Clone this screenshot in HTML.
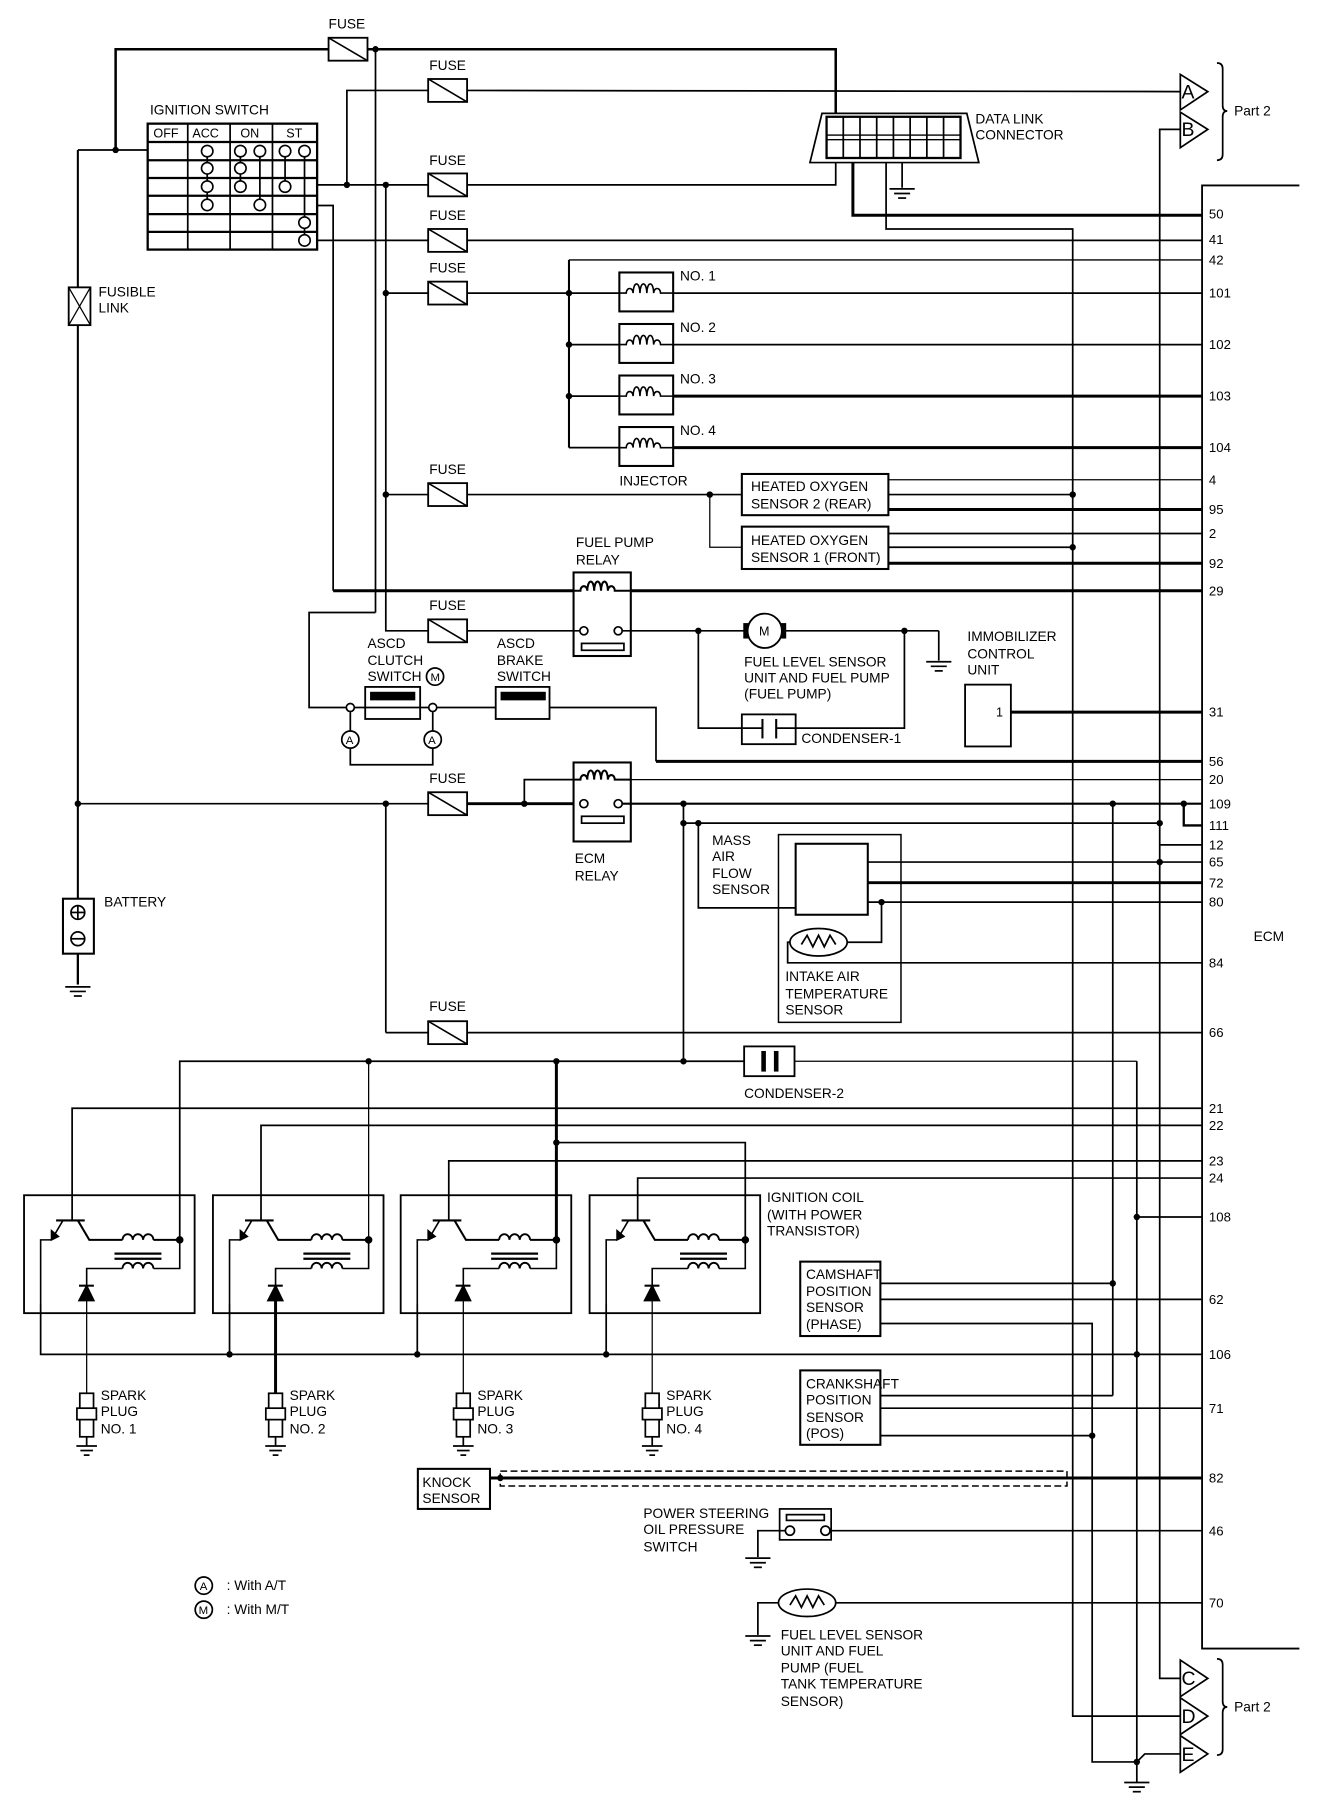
<!DOCTYPE html>
<html><head><meta charset="utf-8"><style>
html,body{margin:0;padding:0;background:#fff}
svg{display:block}
text{font-family:"Liberation Sans",Arial,sans-serif;font-size:12px;fill:#000}
text.big{font-size:17px}
text.sm{font-size:10px}
text.tb{font-size:11px}
g.pin text{font-size:11.5px}
</style></head><body>
<svg width="1328" height="1798" viewBox="0 0 1160 1570.5" preserveAspectRatio="none" xmlns="http://www.w3.org/2000/svg">
<defs>
<g id="fuse"><rect x="0" y="-10" width="34" height="20" fill="#fff" stroke="#000" stroke-width="1.6"/><line x1="0" y1="-10" x2="34" y2="10" stroke="#000" stroke-width="1.4"/></g>
<g id="gnd" stroke="#000" stroke-width="1.5"><line x1="-11" y1="0" x2="11" y2="0"/><line x1="-7" y1="4" x2="7" y2="4"/><line x1="-3.5" y1="8" x2="3.5" y2="8"/></g>
<g id="inj" fill="none" stroke="#000"><rect x="0" y="-18" width="47" height="34" stroke-width="1.8" fill="#fff"/><path d="M0,0 H6 a3,4 0 0 1 6,0 a3,8 0 1 1 6,0 a3,8 0 1 1 6,0 a3,8 0 1 1 6,0 a3,4 0 0 1 6,0 H47" stroke-width="1.4"/></g>
<g id="coil" fill="none" stroke="#000" stroke-width="1.4">
<rect x="0" y="1044" width="149" height="103" stroke-width="1.6"/>
<line x1="28" y1="1066" x2="53" y2="1066" stroke-width="1.8"/>
<line x1="34" y1="1066" x2="24" y2="1083"/>
<polygon points="24,1083 24,1075 30,1080" fill="#000"/>
<polyline points="24,1083 14.5,1083 14.5,1139"/>
<polyline points="47,1066 57,1083 86,1083" stroke-width="1.8"/>
<path d="M86,1083 a4.5,5 0 0 1 9,0 a4.5,5 0 0 1 9,0 a4.5,5 0 0 1 9,0" stroke-width="1.6"/>
<line x1="113" y1="1083" x2="136" y2="1083" stroke-width="1.8"/>
<line x1="79" y1="1095" x2="120" y2="1095" stroke-width="2"/>
<line x1="79" y1="1099.5" x2="120" y2="1099.5" stroke-width="2"/>
<polyline points="136,1083 136,1108 113,1108"/>
<path d="M113,1108 a4.5,5 0 0 0 -9,0 a4.5,5 0 0 0 -9,0 a4.5,5 0 0 0 -9,0" stroke-width="1.6"/>
<polyline points="86,1108 54.7,1108 54.7,1123"/>
<line x1="48" y1="1123" x2="61" y2="1123" stroke-width="1.8"/>
<polygon points="48,1136 61,1136 54.7,1123" fill="#000"/>
<circle cx="136" cy="1083" r="2.6" fill="#000"/>
</g>
<g id="plug" fill="#fff" stroke="#000" stroke-width="1.5">
<rect x="-6" y="0" width="12" height="38"/><rect x="-8.5" y="13" width="17" height="10"/>
<line x1="0" y1="38" x2="0" y2="46"/><line x1="-9" y1="46" x2="9" y2="46"/><line x1="-5.5" y1="50" x2="5.5" y2="50"/><line x1="-2.5" y1="54" x2="2.5" y2="54"/>
</g>
</defs>

<g fill="none" stroke="#000" stroke-width="1.5">
<polyline points="1135,162 1050,162 1050,1440 1135,1440" stroke-width="1.6"/>
<polyline points="68,131 129,131" />
<polyline points="101,131 101,43 287,43" stroke-width="2.2"/>
<polyline points="321,43 730,43 730,102" stroke-width="2.2"/>
<line x1="328" y1="43" x2="328" y2="535"/>
<polyline points="328,535 270,535 270,618 306,618"/>
<polyline points="303,161.5 303,79 374,79"/>
<line x1="408" y1="79" x2="1031" y2="80"/>
<polyline points="277,161.5 374,161.5"/>
<polyline points="408,161.5 730,161.5 730,138"/>
<polyline points="277,179.5 291,179.5 291,516"/>
<line x1="277" y1="210" x2="374" y2="210"/>
<line x1="408" y1="210" x2="1050" y2="210"/>
<polyline points="337,161.5 337,551 374,551"/>
<line x1="337" y1="256" x2="374" y2="256"/>
<line x1="408" y1="256" x2="497" y2="256"/>
<line x1="337" y1="432" x2="374" y2="432"/>
<polyline points="745,138 745,188 1050,188" stroke-width="2.6"/>
<polyline points="774,138 774,200 937,200 937,1499 1031,1499"/>
<line x1="788" y1="142" x2="788" y2="164"/>
<polyline points="1031,113 1013,113 1013,1466 1031,1466"/>
<polyline points="497,227 1050,227" stroke-width="1.2"/>
<line x1="497" y1="227" x2="497" y2="391" stroke-width="1.8"/>
<line x1="497" y1="256" x2="541" y2="256"/><line x1="497" y1="301" x2="541" y2="301"/><line x1="497" y1="346" x2="541" y2="346"/><line x1="497" y1="391" x2="541" y2="391"/>
<line x1="588" y1="256" x2="1050" y2="256"/><line x1="588" y1="301" x2="1050" y2="301"/>
<line x1="588" y1="346" x2="1050" y2="346" stroke-width="2.6"/><line x1="588" y1="391" x2="1050" y2="391" stroke-width="2.6"/>
<line x1="408" y1="432" x2="648" y2="432"/>
<polyline points="620,432 620,478 648,478" stroke-width="1.1"/>
<rect x="648" y="414" width="128" height="36" stroke-width="1.8"/>
<rect x="648" y="460" width="128" height="37" stroke-width="1.8"/>
<line x1="776" y1="419" x2="1050" y2="419" stroke-width="1.1"/>
<line x1="776" y1="432" x2="937" y2="432"/>
<line x1="776" y1="445" x2="1050" y2="445" stroke-width="2.6"/>
<line x1="776" y1="466" x2="1050" y2="466"/>
<line x1="776" y1="478" x2="937" y2="478"/>
<line x1="776" y1="492" x2="1050" y2="492" stroke-width="2.6"/>
<line x1="291" y1="516" x2="1050" y2="516" stroke-width="2.6"/>
<rect x="501" y="500" width="50" height="73" fill="#fff" stroke-width="1.8"/>
<path d="M501,516 H507 a3,4 0 0 1 6,0 a3,8 0 1 1 6,0 a3,8 0 1 1 6,0 a3,8 0 1 1 6,0 a3,4 0 0 1 6,0 H551" stroke-width="1.8"/>
<line x1="408" y1="551" x2="506" y2="551"/>
<circle cx="510" cy="551" r="3.5" fill="#fff"/><circle cx="540" cy="551" r="3.5" fill="#fff"/>
<rect x="508" y="562" width="37" height="6"/>
<line x1="544" y1="551" x2="652" y2="551"/>
<line x1="684" y1="551" x2="820" y2="551"/>
<line x1="820" y1="551" x2="820" y2="577"/>
<circle cx="668" cy="551" r="15" fill="#fff" stroke-width="1.6"/>
<rect x="650" y="545" width="3" height="12" fill="#000"/><rect x="683" y="545" width="3" height="12" fill="#000"/>
<polyline points="610,551 610,636 648,636"/>
<polyline points="695,636 790,636 790,551"/>
<rect x="648" y="624" width="47" height="26" stroke-width="1.6"/>
<line x1="648" y1="636" x2="666" y2="636"/><line x1="678" y1="636" x2="695" y2="636"/>
<line x1="666" y1="628" x2="666" y2="645" stroke-width="1.8"/><line x1="678" y1="628" x2="678" y2="645" stroke-width="1.8"/>
<rect x="843" y="598" width="40" height="54" stroke-width="1.6"/>
<line x1="883" y1="622" x2="1050" y2="622" stroke-width="2.6"/>
<line x1="310" y1="618" x2="374" y2="618"/>
<line x1="382" y1="618" x2="433" y2="618"/>
<polyline points="480,618 573,618 573,665"/>
<line x1="573" y1="665" x2="1050" y2="665" stroke-width="2.6"/>
<rect x="319" y="600" width="48" height="28" stroke-width="1.6"/>
<rect x="433" y="600" width="47" height="28" stroke-width="1.6"/>
<rect x="324" y="605" width="38" height="6" fill="#000"/>
<rect x="438" y="605" width="38" height="6" fill="#000"/>
<line x1="306" y1="622" x2="306" y2="640"/><line x1="378" y1="622" x2="378" y2="640"/>
<polyline points="306,653 306,668 378,668 378,653"/>
<circle cx="306" cy="618" r="3.5" fill="#fff"/><circle cx="378" cy="618" r="3.5" fill="#fff"/>
<circle cx="306" cy="646" r="7.5" fill="#fff"/><circle cx="378" cy="646" r="7.5" fill="#fff"/>
<circle cx="380" cy="591" r="7.5" fill="#fff"/>
<line x1="68" y1="131" x2="68" y2="785" stroke-width="1.8"/>
<line x1="68" y1="833" x2="68" y2="860" stroke-width="2"/>
<rect x="55" y="785" width="27" height="48" fill="#fff" stroke-width="1.8"/>
<circle cx="68" cy="797" r="6"/><line x1="62" y1="797" x2="74" y2="797"/><line x1="68" y1="791" x2="68" y2="803"/>
<circle cx="68" cy="820" r="6"/><line x1="62" y1="820" x2="74" y2="820"/>
<rect x="60" y="251" width="19" height="33" fill="#fff" stroke-width="1.6"/>
<line x1="60" y1="251" x2="79" y2="284" stroke-width="1.1"/><line x1="79" y1="251" x2="60" y2="284" stroke-width="1.1"/>
<line x1="68" y1="702" x2="374" y2="702"/>
<line x1="408" y1="702" x2="506" y2="702" stroke-width="2.6"/>
<polyline points="458,702 458,681 501,681"/>
<rect x="501" y="666" width="50" height="69" fill="#fff" stroke-width="1.8"/>
<path d="M501,681 H507 a3,4 0 0 1 6,0 a3,8 0 1 1 6,0 a3,8 0 1 1 6,0 a3,8 0 1 1 6,0 a3,4 0 0 1 6,0 H551" stroke-width="1.8"/>
<circle cx="510" cy="702" r="3.5" fill="#fff"/><circle cx="540" cy="702" r="3.5" fill="#fff"/>
<rect x="508" y="713" width="37" height="6"/>
<line x1="551" y1="681" x2="1050" y2="681" stroke-width="1.1"/>
<line x1="544" y1="702" x2="1050" y2="702" stroke-width="1.8"/>
<polyline points="1034,702 1034,721 1050,721" stroke-width="2"/>
<line x1="597" y1="719" x2="1013" y2="719"/>
<line x1="1013" y1="738" x2="1050" y2="738"/>
<line x1="597" y1="702" x2="597" y2="927"/>
<line x1="337" y1="702" x2="337" y2="902"/>
<line x1="337" y1="902" x2="374" y2="902"/>
<line x1="408" y1="902" x2="1050" y2="902"/>
<line x1="972" y1="702" x2="972" y2="1219"/>
<polyline points="610,719 610,793 695,793"/>
<rect x="680" y="729" width="107" height="164" stroke-width="1.3"/>
<rect x="695" y="737" width="63" height="62" stroke-width="1.8"/>
<line x1="758" y1="753" x2="1050" y2="753"/>
<line x1="758" y1="771" x2="1050" y2="771" stroke-width="2.6"/>
<line x1="758" y1="788" x2="1050" y2="788"/>
<polyline points="770,788 770,823 740,823"/>
<ellipse cx="715" cy="823" rx="25" ry="12"/>
<polyline points="700,825 705,817 710,827 715,817 720,827 725,817 730,825"/>
<polyline points="690,823 688,823 688,841 1050,841"/>
<polyline points="157,1083 157,927 650,927" />
<line x1="322" y1="927" x2="322" y2="1083" stroke-width="1.1"/>
<line x1="486" y1="927" x2="486" y2="1083" stroke-width="2.6"/>
<polyline points="486,998 651,998 651,1083"/>
<line x1="694" y1="927" x2="993" y2="927" stroke-width="1.1"/>
<line x1="993" y1="927" x2="993" y2="1557"/>
<rect x="650" y="914" width="44" height="26" stroke-width="1.6"/>
<rect x="665" y="918" width="4" height="18" fill="#000" stroke="none"/><rect x="676" y="918" width="4" height="18" fill="#000" stroke="none"/>
<polyline points="63,1066 63,968 1050,968"/>
<polyline points="228,1066 228,983 1050,983"/>
<polyline points="392,1066 392,1014 1050,1014"/>
<polyline points="557,1066 557,1029 1050,1029"/>
<line x1="993" y1="1063" x2="1050" y2="1063"/>
<polyline points="35.5,1139 35.5,1183 1050,1183"/>
<line x1="200.5" y1="1139" x2="200.5" y2="1183"/><line x1="364.5" y1="1139" x2="364.5" y2="1183"/><line x1="529.5" y1="1139" x2="529.5" y2="1183"/>
<line x1="75.7" y1="1136" x2="75.7" y2="1217" stroke-width="1.1"/>
<line x1="240.7" y1="1136" x2="240.7" y2="1217" stroke-width="2.6"/>
<line x1="404.7" y1="1136" x2="404.7" y2="1217" stroke-width="1.1"/>
<line x1="569.7" y1="1136" x2="569.7" y2="1217" stroke-width="1.1"/>
<rect x="699" y="1102" width="70" height="65" stroke-width="1.8"/>
<rect x="699" y="1197" width="70" height="65" stroke-width="1.8"/>
<line x1="769" y1="1121" x2="972" y2="1121"/>
<line x1="769" y1="1135" x2="1050" y2="1135"/>
<polyline points="769,1156 954,1156 954,1539 993,1539"/>
<polyline points="769,1219 972,1219"/>
<line x1="769" y1="1230" x2="1050" y2="1230"/>
<line x1="769" y1="1254" x2="954" y2="1254"/>
<polyline points="993,1539 1000,1532 1031,1532"/>
<rect x="365" y="1283" width="63" height="35" stroke-width="1.8"/>
<line x1="428" y1="1291" x2="1050" y2="1291" stroke-width="2.6"/>
<rect x="437" y="1285" width="495" height="13" stroke-dasharray="6,3" stroke-width="1.3"/>
<rect x="681" y="1318" width="45" height="27" stroke-width="1.5"/>
<rect x="687" y="1323" width="33" height="5" stroke-width="1.5"/>
<polyline points="686,1337 662,1337 662,1360"/>
<line x1="725" y1="1337" x2="1050" y2="1337"/>
<circle cx="690" cy="1337" r="4" fill="#fff"/><circle cx="721" cy="1337" r="4" fill="#fff"/>
<ellipse cx="705" cy="1400" rx="25" ry="12"/>
<polyline points="690,1402 695,1394 700,1404 705,1394 710,1404 715,1394 720,1402"/>
<polyline points="680,1400 662,1400 662,1428"/>
<line x1="730" y1="1400" x2="1050" y2="1400"/>
<polygon points="1031,65 1031,96 1055,80" fill="#fff"/>
<polygon points="1031,98 1031,129 1055,113" fill="#fff"/>
<polygon points="1031,1450 1031,1482 1055,1466" fill="#fff"/>
<polygon points="1031,1483 1031,1515 1055,1499" fill="#fff"/>
<polygon points="1031,1516 1031,1548 1055,1532" fill="#fff"/>
<path d="M1063,55 Q1068,55 1068,60 V92 Q1068,97 1072,97 Q1068,97 1068,102 V135 Q1068,140 1063,140"/>
<path d="M1063,1449 Q1068,1449 1068,1454 V1486 Q1068,1491 1072,1491 Q1068,1491 1068,1496 V1528 Q1068,1533 1063,1533"/>
<circle cx="178" cy="1385" r="7.5"/><circle cx="178" cy="1406" r="7.5"/>
<polygon points="718,99 844.5,99 855,142 707.5,142" fill="#fff" stroke-width="1.5"/>
<rect x="722" y="102" width="117" height="36" stroke-width="2"/>
<rect x="722" y="118" width="117" height="4" stroke-width="1.2"/>
<line x1="736.6" y1="102" x2="736.6" y2="138"/><line x1="751.2" y1="102" x2="751.2" y2="138"/><line x1="765.8" y1="102" x2="765.8" y2="138"/><line x1="780.4" y1="102" x2="780.4" y2="138"/><line x1="795" y1="102" x2="795" y2="138"/><line x1="809.6" y1="102" x2="809.6" y2="138"/><line x1="824.2" y1="102" x2="824.2" y2="138"/>
<rect x="129" y="108" width="148" height="110" stroke-width="2"/>
<line x1="129" y1="124" x2="277" y2="124" stroke-width="2"/><line x1="129" y1="140" x2="277" y2="140" stroke-width="2"/><line x1="129" y1="155.5" x2="277" y2="155.5" stroke-width="2"/><line x1="129" y1="171" x2="277" y2="171" stroke-width="2"/><line x1="129" y1="187" x2="277" y2="187" stroke-width="2"/><line x1="129" y1="202.5" x2="277" y2="202.5" stroke-width="2"/>
<line x1="164" y1="108" x2="164" y2="218"/><line x1="201" y1="108" x2="201" y2="218"/><line x1="238" y1="108" x2="238" y2="218"/>
<line x1="181" y1="132" x2="181" y2="179"/><line x1="210" y1="132" x2="210" y2="163"/><line x1="227" y1="132" x2="227" y2="179"/><line x1="249" y1="132" x2="249" y2="163"/><line x1="266" y1="132" x2="266" y2="210"/>
</g>
<g fill="#fff" stroke="#000" stroke-width="1.4">
<circle cx="181" cy="132" r="5"/><circle cx="210" cy="132" r="5"/><circle cx="227" cy="132" r="5"/><circle cx="249" cy="132" r="5"/><circle cx="266" cy="132" r="5"/>
<circle cx="181" cy="147" r="5"/><circle cx="210" cy="147" r="5"/>
<circle cx="181" cy="163" r="5"/><circle cx="210" cy="163" r="5"/><circle cx="249" cy="163" r="5"/>
<circle cx="181" cy="179" r="5"/><circle cx="227" cy="179" r="5"/>
<circle cx="266" cy="194.5" r="5"/><circle cx="266" cy="210" r="5"/>
</g>
<use href="#fuse" x="287" y="43"/>
<use href="#fuse" x="374" y="79"/>
<use href="#fuse" x="374" y="161.5"/>
<use href="#fuse" x="374" y="210"/>
<use href="#fuse" x="374" y="256"/>
<use href="#fuse" x="374" y="432"/>
<use href="#fuse" x="374" y="551"/>
<use href="#fuse" x="374" y="702"/>
<use href="#fuse" x="374" y="902"/>
<use href="#inj" x="541" y="256"/><use href="#inj" x="541" y="301"/><use href="#inj" x="541" y="346"/><use href="#inj" x="541" y="391"/>
<use href="#coil" x="21"/><use href="#coil" x="186"/><use href="#coil" x="350"/><use href="#coil" x="515"/>
<use href="#plug" x="75.7" y="1217"/><use href="#plug" x="240.7" y="1217"/><use href="#plug" x="404.7" y="1217"/><use href="#plug" x="569.7" y="1217"/>
<use href="#gnd" x="788" y="165"/><use href="#gnd" x="820" y="578"/><use href="#gnd" x="68" y="862"/>
<use href="#gnd" x="662" y="1361"/><use href="#gnd" x="662" y="1429"/><use href="#gnd" x="993" y="1557"/>
<g fill="#000">
<circle cx="328" cy="43" r="2.8"/><circle cx="101" cy="131" r="2.8"/><circle cx="303" cy="161.5" r="2.8"/><circle cx="337" cy="161.5" r="2.8"/>
<circle cx="337" cy="256" r="2.8"/><circle cx="337" cy="432" r="2.8"/><circle cx="497" cy="256" r="2.8"/><circle cx="497" cy="301" r="2.8"/><circle cx="497" cy="346" r="2.8"/>
<circle cx="620" cy="432" r="2.8"/><circle cx="937" cy="432" r="2.8"/><circle cx="937" cy="478" r="2.8"/>
<circle cx="610" cy="551" r="2.8"/><circle cx="790" cy="551" r="2.8"/>
<circle cx="68" cy="702" r="2.8"/><circle cx="337" cy="702" r="2.8"/><circle cx="458" cy="702" r="2.8"/><circle cx="597" cy="702" r="2.8"/><circle cx="597" cy="719" r="2.8"/><circle cx="610" cy="719" r="2.8"/>
<circle cx="972" cy="702" r="2.8"/><circle cx="1034" cy="702" r="2.8"/><circle cx="1013" cy="719" r="2.8"/><circle cx="1013" cy="753" r="2.8"/><circle cx="770" cy="788" r="2.8"/>
<circle cx="322" cy="927" r="2.8"/><circle cx="486" cy="927" r="2.8"/><circle cx="597" cy="927" r="2.8"/><circle cx="486" cy="998" r="2.8"/>
<circle cx="993" cy="1063" r="2.8"/><circle cx="200.5" cy="1183" r="2.8"/><circle cx="364.5" cy="1183" r="2.8"/><circle cx="529.5" cy="1183" r="2.8"/><circle cx="993" cy="1183" r="2.8"/>
<circle cx="972" cy="1121" r="2.8"/><circle cx="954" cy="1254" r="2.8"/><circle cx="437" cy="1291" r="2.8"/><circle cx="993" cy="1539" r="2.8"/>
</g>
<g>
<text x="287" y="25">FUSE</text><text x="375" y="61">FUSE</text><text x="375" y="144">FUSE</text><text x="375" y="192">FUSE</text><text x="375" y="238">FUSE</text><text x="375" y="414">FUSE</text><text x="375" y="533">FUSE</text><text x="375" y="684">FUSE</text><text x="375" y="883">FUSE</text>
<text x="131" y="100">IGNITION SWITCH</text>
<text class="tb" x="134" y="120">OFF</text><text class="tb" x="168" y="120">ACC</text><text class="tb" x="210" y="120">ON</text><text class="tb" x="250" y="120">ST</text>
<text x="852" y="108">DATA LINK</text><text x="852" y="122">CONNECTOR</text>
<text x="86" y="259">FUSIBLE</text><text x="86" y="273">LINK</text>
<text x="91" y="792">BATTERY</text>
<text x="594" y="245">NO. 1</text><text x="594" y="290">NO. 2</text><text x="594" y="335">NO. 3</text><text x="594" y="380">NO. 4</text>
<text x="541" y="424">INJECTOR</text>
<text x="656" y="429">HEATED OXYGEN</text><text x="656" y="444">SENSOR 2 (REAR)</text>
<text x="656" y="476">HEATED OXYGEN</text><text x="656" y="491">SENSOR 1 (FRONT)</text>
<text x="503" y="478">FUEL PUMP</text><text x="503" y="493">RELAY</text>
<text x="321" y="566">ASCD</text><text x="321" y="581">CLUTCH</text><text x="321" y="595">SWITCH</text>
<text x="434" y="566">ASCD</text><text x="434" y="581">BRAKE</text><text x="434" y="595">SWITCH</text>
<text class="sm" x="376" y="595">M</text>
<text class="sm" x="302" y="650">A</text><text class="sm" x="374" y="650">A</text>
<text x="650" y="582">FUEL LEVEL SENSOR</text><text x="650" y="596">UNIT AND FUEL PUMP</text><text x="650" y="610">(FUEL PUMP)</text>
<text class="tb" x="663" y="555">M</text>
<text x="700" y="649">CONDENSER-1</text>
<text x="845" y="560">IMMOBILIZER</text><text x="845" y="575">CONTROL</text><text x="845" y="589">UNIT</text>
<text class="tb" x="870" y="626">1</text>
<text x="502" y="754">ECM</text><text x="502" y="769">RELAY</text>
<text x="622" y="738">MASS</text><text x="622" y="752">AIR</text><text x="622" y="767">FLOW</text><text x="622" y="781">SENSOR</text>
<text x="686" y="857">INTAKE AIR</text><text x="686" y="872">TEMPERATURE</text><text x="686" y="886">SENSOR</text>
<text x="1095" y="822">ECM</text>
<text x="650" y="959">CONDENSER-2</text>
<text x="670" y="1050">IGNITION COIL</text><text x="670" y="1065">(WITH POWER</text><text x="670" y="1079">TRANSISTOR)</text>
<text x="704" y="1117">CAMSHAFT</text><text x="704" y="1132">POSITION</text><text x="704" y="1146">SENSOR</text><text x="704" y="1161">(PHASE)</text>
<text x="704" y="1213">CRANKSHAFT</text><text x="704" y="1227">POSITION</text><text x="704" y="1242">SENSOR</text><text x="704" y="1256">(POS)</text>
<text x="88" y="1223">SPARK</text><text x="88" y="1237">PLUG</text><text x="88" y="1252">NO. 1</text>
<text x="253" y="1223">SPARK</text><text x="253" y="1237">PLUG</text><text x="253" y="1252">NO. 2</text>
<text x="417" y="1223">SPARK</text><text x="417" y="1237">PLUG</text><text x="417" y="1252">NO. 3</text>
<text x="582" y="1223">SPARK</text><text x="582" y="1237">PLUG</text><text x="582" y="1252">NO. 4</text>
<text x="369" y="1299">KNOCK</text><text x="369" y="1313">SENSOR</text>
<text x="562" y="1326">POWER STEERING</text><text x="562" y="1340">OIL PRESSURE</text><text x="562" y="1355">SWITCH</text>
<text x="682" y="1432">FUEL LEVEL SENSOR</text><text x="682" y="1446">UNIT AND FUEL</text><text x="682" y="1461">PUMP (FUEL</text><text x="682" y="1475">TANK TEMPERATURE</text><text x="682" y="1490">SENSOR)</text>
<text class="sm" x="174.5" y="1389">A</text><text class="sm" x="173.5" y="1410">M</text>
<text x="198" y="1389">: With A/T</text><text x="198" y="1410">: With M/T</text>
<text x="1078" y="101">Part 2</text><text x="1078" y="1495">Part 2</text>
<text class="big" x="1032" y="86">A</text><text class="big" x="1032" y="119">B</text>
<text class="big" x="1032" y="1472">C</text><text class="big" x="1032" y="1505">D</text><text class="big" x="1032" y="1538">E</text>
</g>
<g class="pin">
<text x="1056" y="191">50</text><text x="1056" y="213">41</text><text x="1056" y="231">42</text><text x="1056" y="260">101</text><text x="1056" y="305">102</text><text x="1056" y="350">103</text><text x="1056" y="395">104</text>
<text x="1056" y="423">4</text><text x="1056" y="449">95</text><text x="1056" y="470">2</text><text x="1056" y="496">92</text><text x="1056" y="520">29</text><text x="1056" y="626">31</text>
<text x="1056" y="669">56</text><text x="1056" y="685">20</text><text x="1056" y="706">109</text><text x="1056" y="725">111</text><text x="1056" y="742">12</text><text x="1056" y="757">65</text><text x="1056" y="775">72</text><text x="1056" y="792">80</text>
<text x="1056" y="845">84</text><text x="1056" y="906">66</text><text x="1056" y="972">21</text><text x="1056" y="987">22</text><text x="1056" y="1018">23</text><text x="1056" y="1033">24</text>
<text x="1056" y="1067">108</text><text x="1056" y="1139">62</text><text x="1056" y="1187">106</text><text x="1056" y="1234">71</text><text x="1056" y="1295">82</text><text x="1056" y="1341">46</text><text x="1056" y="1404">70</text>
</g>
</svg>
</body></html>
